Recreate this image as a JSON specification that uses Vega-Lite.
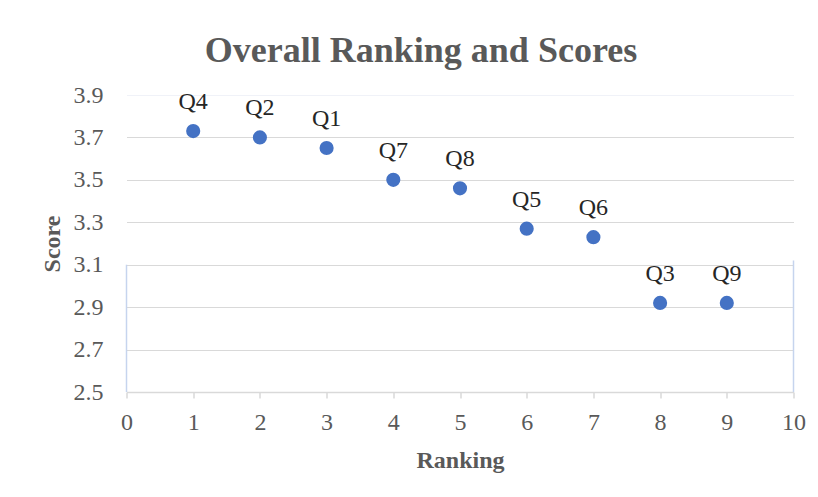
{
  "$schema": "https://vega.github.io/schema/vega-lite/v6.json",
  "width": 667,
  "height": 297,
  "autosize": "none",
  "padding": {"left": 126.5, "top": 95, "right": 24.5, "bottom": 105},
  "background": "white",
  "title": {
    "text": "Overall Ranking and Scores",
    "font": "Liberation Serif",
    "fontSize": 36,
    "fontWeight": "bold",
    "color": "#595959",
    "anchor": "middle",
    "baseline": "alphabetic",
    "offset": -15,
    "dx": -39
  },
  "config": {"view": {"stroke": null}},
  "datasets": {
    "scores": [
      {"label": "Q4", "rank": 1, "score": 3.73},
      {"label": "Q2", "rank": 2, "score": 3.70},
      {"label": "Q1", "rank": 3, "score": 3.65},
      {"label": "Q7", "rank": 4, "score": 3.50},
      {"label": "Q8", "rank": 5, "score": 3.46},
      {"label": "Q5", "rank": 6, "score": 3.27},
      {"label": "Q6", "rank": 7, "score": 3.23},
      {"label": "Q3", "rank": 8, "score": 2.92},
      {"label": "Q9", "rank": 9, "score": 2.92}
    ],
    "edges": [
      {"rank": 0, "top": 3.1, "bottom": 2.5},
      {"rank": 10, "top": 3.12, "bottom": 2.5}
    ]
  },
  "layer": [
    {
      "data": {"name": "edges"},
      "mark": {"type": "rule", "color": "#c6d4ee", "strokeWidth": 1.5},
      "encoding": {
        "x": {"field": "rank", "type": "quantitative", "scale": {"domain": [0, 10]}},
        "y": {"field": "top", "type": "quantitative", "scale": {"domain": [2.5, 3.9]}},
        "y2": {"field": "bottom"}
      }
    },
    {
      "data": {"name": "scores"},
      "mark": {"type": "point", "filled": true, "size": 200, "color": "#4472C4", "opacity": 1},
      "encoding": {
        "x": {
          "field": "rank",
          "type": "quantitative",
          "scale": {"domain": [0, 10], "nice": false},
          "axis": {
            "values": [0, 1, 2, 3, 4, 5, 6, 7, 8, 9, 10],
            "format": "d",
            "grid": false,
            "domainColor": "#d9d9d9",
            "domainWidth": 1.5,
            "tickColor": "#d9d9d9",
            "tickWidth": 1.5,
            "tickSize": 6,
            "labelFont": "Liberation Serif",
            "labelFontSize": 24,
            "labelColor": "#595959",
            "labelPadding": 12,
            "labelFlush": false,
            "labelOverlap": false,
            "title": "Ranking",
            "titleFont": "Liberation Serif",
            "titleFontSize": 24,
            "titleFontWeight": "bold",
            "titleColor": "#595959",
            "titleX": 333.5,
            "titleY": 68,
            "titleBaseline": "middle",
            "titleAlign": "center"
          }
        },
        "y": {
          "field": "score",
          "type": "quantitative",
          "scale": {"domain": [2.5, 3.9], "nice": false, "zero": false},
          "axis": {
            "values": [2.5, 2.7, 2.9, 3.1, 3.3, 3.5, 3.7, 3.9],
            "format": ".1f",
            "domain": false,
            "ticks": false,
            "tickSize": 0,
            "gridColor": {"condition": {"test": "datum.value >= 3.85 || datum.value <= 2.55", "value": "#f0f2f8"}, "value": "#d9d9d9"},
            "gridWidth": 1,
            "labelFont": "Liberation Serif",
            "labelFontSize": 24,
            "labelColor": "#595959",
            "labelPadding": 23.5,
            "labelOverlap": false,
            "labelFlush": false,
            "title": "Score",
            "titleFont": "Liberation Serif",
            "titleFontSize": 24,
            "titleFontWeight": "bold",
            "titleColor": "#595959",
            "titleX": -74.5,
            "titleY": 148.5,
            "titleAngle": -90,
            "titleBaseline": "middle",
            "titleAlign": "center"
          }
        }
      }
    },
    {
      "data": {"name": "scores"},
      "mark": {"type": "text", "font": "Liberation Serif", "fontSize": 24, "color": "#262626", "baseline": "alphabetic", "dy": -22},
      "encoding": {
        "x": {"field": "rank", "type": "quantitative"},
        "y": {"field": "score", "type": "quantitative"},
        "text": {"field": "label"}
      }
    }
  ]
}
